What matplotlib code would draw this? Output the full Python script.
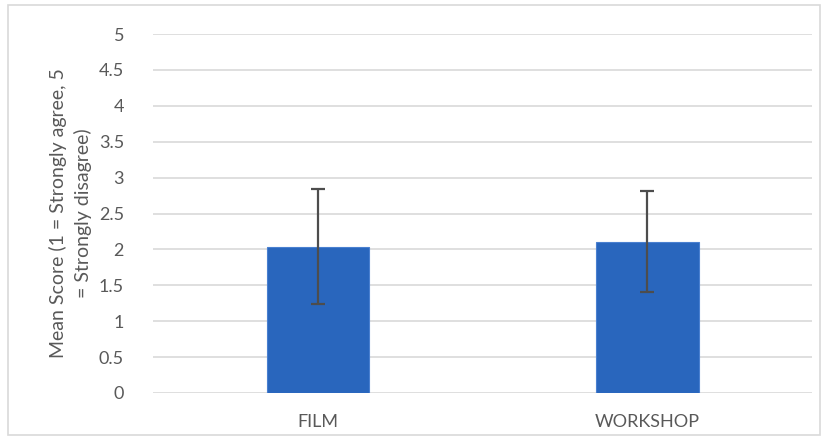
import matplotlib.pyplot as plt
from matplotlib.patches import Rectangle

# data
categories = ['FILM', 'WORKSHOP']
means = [2.04, 2.11]
errors = [0.80, 0.70]
y_ticks = [0, 0.5, 1, 1.5, 2, 2.5, 3, 3.5, 4, 4.5, 5]
y_tick_labels = ['0', '0.5', '1', '1.5', '2', '2.5', '3', '3.5', '4', '4.5', '5']

plt.rcParams['font.family'] = ['Lato', 'DejaVu Sans']

fig = plt.figure(figsize=(8.28, 4.43), dpi=100)
ax = fig.add_axes([0.185, 0.113, 0.796, 0.81])

# light frame around the chart like the spreadsheet export
fig.patches.append(Rectangle((8 / 828, 8 / 443), 812 / 828, 430 / 443,
                             transform=fig.transFigure, fill=False,
                             edgecolor='#d9d9d9', linewidth=1.2))

x = range(len(categories))
ax.bar(x, means, width=0.31, color='#2966bd', edgecolor='#4a80d0',
       linewidth=0.8, zorder=3)
ax.errorbar(x, means, yerr=errors, fmt='none', ecolor='#4d4d4d',
            elinewidth=1.6, capsize=5, capthick=1.6, zorder=4)

ax.set_xlim(-0.5, 1.5)
ax.set_ylim(0, 5)
ax.set_yticks(y_ticks)
ax.set_yticklabels(y_tick_labels)
ax.set_xticks(list(x))
ax.set_xticklabels(categories)
ax.yaxis.grid(True, color='#d9d9d9', linewidth=1.2, zorder=0)
ax.set_axisbelow(True)
for side in ['top', 'right', 'left', 'bottom']:
    ax.spines[side].set_visible(False)
ax.tick_params(axis='both', length=0, labelsize=13, colors='#595959')
ax.tick_params(axis='y', pad=21)
ax.tick_params(axis='x', pad=15)

ax.set_ylabel('Mean Score (1 = Strongly agree, 5\n= Strongly disagree)',
              fontsize=14, color='#595959', linespacing=1.45, labelpad=5)

fig.savefig('out.png', dpi=100)
